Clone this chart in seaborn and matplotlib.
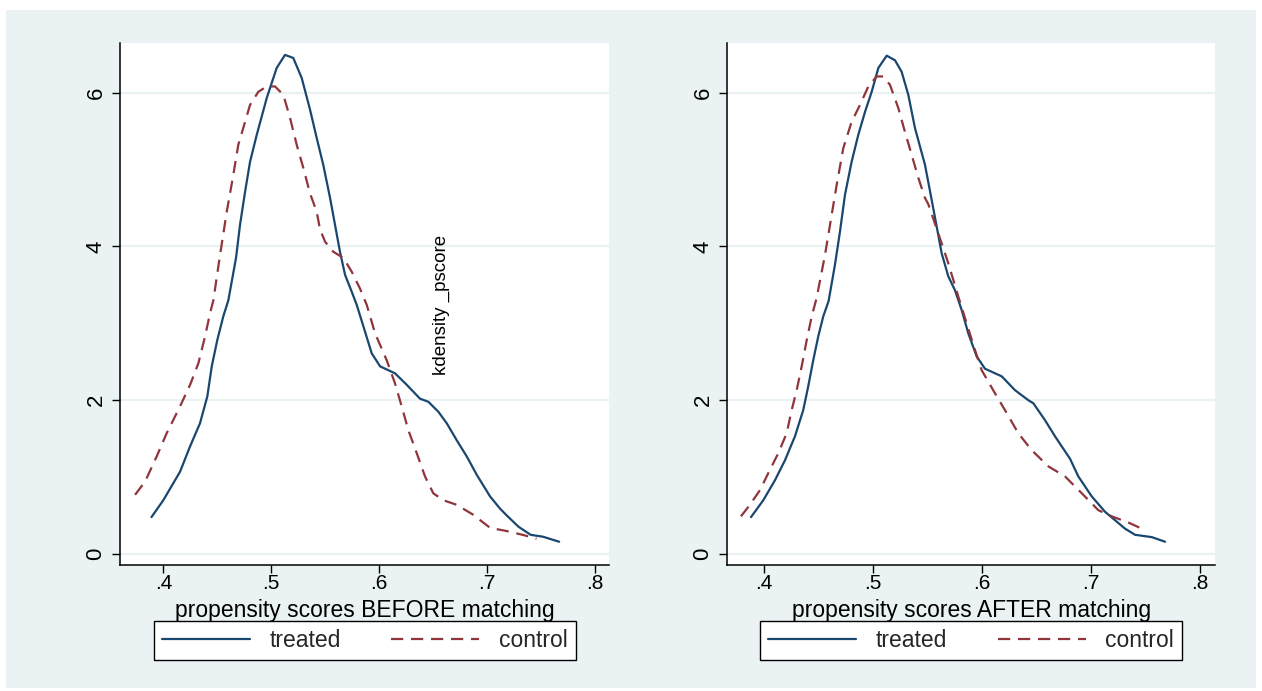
import matplotlib
matplotlib.use("Agg")
import matplotlib.pyplot as plt
from matplotlib.patches import Rectangle
import pandas as pd
import seaborn as sns

# --- kdensity curves (propensity score, density) ---
before_treated_x = [0.389, 0.400, 0.4155, 0.4248, 0.434, 0.4408, 0.4449, 0.450, 0.4556, 0.4603,
                    0.4674, 0.4711, 0.4758, 0.4804, 0.4866, 0.4959, 0.5051, 0.5128, 0.5205, 0.5283,
                    0.536, 0.5422, 0.5483, 0.5546, 0.5592, 0.5638, 0.5685, 0.5747, 0.5793, 0.5855,
                    0.5932, 0.601, 0.6148, 0.6257, 0.638, 0.6457, 0.655, 0.6628, 0.672, 0.6813,
                    0.6906, 0.7029, 0.7122, 0.7178, 0.7293, 0.7406, 0.752, 0.767]
before_treated_y = [0.48, 0.70, 1.07, 1.40, 1.70, 2.05, 2.44, 2.78, 3.09, 3.30,
                    3.85, 4.28, 4.71, 5.10, 5.45, 5.93, 6.32, 6.49, 6.45, 6.19,
                    5.78, 5.41, 5.06, 4.63, 4.28, 3.93, 3.63, 3.41, 3.24, 2.96,
                    2.61, 2.44, 2.35, 2.20, 2.02, 1.98, 1.85, 1.70, 1.48, 1.27,
                    1.03, 0.75, 0.59, 0.51, 0.355, 0.25, 0.225, 0.16]

before_control_x = [0.3738, 0.383, 0.3939, 0.4031, 0.4155, 0.4248, 0.4325, 0.4387, 0.4433, 0.4464,
                    0.4526, 0.4588, 0.4649, 0.4695, 0.4758, 0.4804, 0.4881, 0.4959, 0.5036, 0.5113,
                    0.5175, 0.5237, 0.5298, 0.536, 0.5422, 0.5453, 0.55, 0.5576, 0.567, 0.5747,
                    0.5824, 0.5886, 0.5963, 0.6071, 0.6148, 0.621, 0.6272, 0.635, 0.6426, 0.6503,
                    0.6596, 0.672, 0.6874, 0.703, 0.718, 0.733, 0.746]
before_control_y = [0.77, 0.94, 1.27, 1.57, 1.92, 2.20, 2.48, 2.83, 3.13, 3.30,
                    3.89, 4.45, 4.93, 5.32, 5.62, 5.84, 6.01, 6.08, 6.08, 5.97,
                    5.67, 5.32, 5.02, 4.69, 4.45, 4.22, 4.06, 3.93, 3.85, 3.67,
                    3.45, 3.24, 2.87, 2.52, 2.22, 1.92, 1.61, 1.31, 1.01, 0.79,
                    0.70, 0.64, 0.51, 0.34, 0.30, 0.25, 0.20]

after_treated_x = [0.3882, 0.3995, 0.4102, 0.4194, 0.4285, 0.4361, 0.4407, 0.4453, 0.4499, 0.4545,
                   0.4594, 0.4652, 0.4698, 0.4744, 0.4805, 0.4866, 0.4928, 0.4989, 0.505, 0.5127,
                   0.5203, 0.5264, 0.5325, 0.5386, 0.5478, 0.554, 0.5585, 0.5631, 0.5692, 0.5753,
                   0.5815, 0.5875, 0.5952, 0.6028, 0.6182, 0.6304, 0.6426, 0.6472, 0.6579, 0.6671,
                   0.6732, 0.6808, 0.6884, 0.7007, 0.7129, 0.7221, 0.7313, 0.7405, 0.7558, 0.768]
after_treated_y = [0.48, 0.70, 0.96, 1.22, 1.53, 1.87, 2.18, 2.52, 2.83, 3.09,
                   3.29, 3.76, 4.19, 4.67, 5.10, 5.45, 5.75, 6.01, 6.32, 6.48,
                   6.42, 6.27, 5.97, 5.54, 5.06, 4.60, 4.26, 3.91, 3.61, 3.43,
                   3.17, 2.87, 2.57, 2.41, 2.31, 2.13, 2.00, 1.96, 1.74, 1.53,
                   1.40, 1.24, 1.01, 0.75, 0.55, 0.44, 0.33, 0.25, 0.22, 0.16]

after_control_x = [0.379, 0.3872, 0.3964, 0.404, 0.4132, 0.4209, 0.4255, 0.4301, 0.4347, 0.4393,
                   0.4439, 0.4484, 0.4561, 0.4622, 0.4668, 0.4729, 0.4805, 0.4882, 0.4958, 0.5035,
                   0.5095, 0.5157, 0.5233, 0.5294, 0.5356, 0.5417, 0.5478, 0.5508, 0.56, 0.5692,
                   0.5783, 0.586, 0.5937, 0.5998, 0.6059, 0.612, 0.6212, 0.6334, 0.6457, 0.6609,
                   0.6762, 0.6916, 0.7068, 0.7191, 0.7343, 0.7466]
after_control_y = [0.49, 0.64, 0.83, 1.05, 1.31, 1.57, 1.87, 2.13, 2.44, 2.78,
                   3.09, 3.33, 3.89, 4.41, 4.80, 5.28, 5.62, 5.84, 6.08, 6.21,
                   6.21, 6.10, 5.80, 5.49, 5.19, 4.89, 4.63, 4.55, 4.17, 3.78,
                   3.35, 3.00, 2.65, 2.39, 2.24, 2.09, 1.87, 1.57, 1.35, 1.14,
                   1.01, 0.79, 0.57, 0.49, 0.41, 0.33]

x_ticks = [0.4, 0.5, 0.6, 0.7, 0.8]
x_tick_labels = ['.4', '.5', '.6', '.7', '.8']
y_ticks = [0, 2, 4, 6]
group_labels = ['treated', 'control']

# Stata s2color scheme colours
NAVY = '#1A476F'
MAROON = '#90353B'
BG = '#EAF2F3'
FS = 16.5

sns.set_theme(style='white')
plt.rcParams['font.family'] = ['Liberation Sans', 'DejaVu Sans']


def _draw_panel(ax, tx, ty, cx, cy, xlabel, xlim):
    """One kdensity panel in the Stata look."""
    ax.set_facecolor('white')
    for y in y_ticks:
        ax.axhline(y, color=BG, linewidth=1.6, zorder=0)

    treated = pd.DataFrame({'pscore': tx, 'density': ty})
    control = pd.DataFrame({'pscore': cx, 'density': cy})
    sns.lineplot(data=treated, x='pscore', y='density', ax=ax, color=NAVY,
                 linewidth=1.6, sort=False, estimator=None, label=group_labels[0])
    sns.lineplot(data=control, x='pscore', y='density', ax=ax, color=MAROON,
                 linewidth=1.6, linestyle=(0, (5.5, 3.5)), sort=False, estimator=None,
                 label=group_labels[1])

    ax.set_xlim(*xlim)
    ax.set_ylim(-0.143, 6.645)
    ax.set_xticks(x_ticks)
    ax.set_xticklabels(x_tick_labels)
    ax.set_yticks(y_ticks)
    ax.set_ylabel('')

    for side in ['top', 'right']:
        ax.spines[side].set_visible(False)
    for side in ['left', 'bottom']:
        ax.spines[side].set_color('black')
        ax.spines[side].set_linewidth(1.1)

    ax.tick_params(axis='both', direction='out', length=6, width=1, color='black',
                   labelsize=15, labelcolor='black', left=True, bottom=True)
    ax.tick_params(axis='x', pad=0.5)
    ax.tick_params(axis='y', labelrotation=90, labelsize=16, pad=3.5)
    for lab in ax.get_yticklabels():
        lab.set_va('center')

    ax.set_xlabel(xlabel, fontsize=FS, color='black')
    ax.xaxis.set_label_coords(0.5, -0.0875)
    ax.xaxis.label.set_va('center')

    leg = ax.legend(loc='center', bbox_to_anchor=(0.5, -0.1437), ncol=2, frameon=True,
                    fancybox=False, edgecolor='black', framealpha=1, fontsize=FS,
                    handlelength=3.85, handletextpad=0.85, columnspacing=2.2, borderpad=0.35)
    leg.get_frame().set_linewidth(1.0)


fig = plt.figure(figsize=(12.62, 6.91), dpi=100)
fig.patch.set_facecolor('white')
fig.patches.append(Rectangle((0.00475, 0.00434), 0.9905, 0.9812, transform=fig.transFigure,
                             facecolor=BG, edgecolor='none', zorder=-10))

ax_before = fig.add_axes([0.0948, 0.1823, 0.3881, 0.7555])
ax_after = fig.add_axes([0.5759, 0.1823, 0.3872, 0.7555])

_draw_panel(ax_before, before_treated_x, before_treated_y, before_control_x, before_control_y,
            'propensity scores BEFORE matching', (0.3595, 0.8136))
_draw_panel(ax_after, after_treated_x, after_treated_y, after_control_x, after_control_y,
            'propensity scores AFTER matching', (0.366, 0.8142))

# stray y-axis title that Stata dropped inside the left panel
ax_before.text(0.6575, 3.24, 'kdensity _pscore', rotation=90, ha='center', va='center',
               fontsize=13.5, color='black')

fig.savefig('out.png', dpi=100, facecolor=fig.get_facecolor())
